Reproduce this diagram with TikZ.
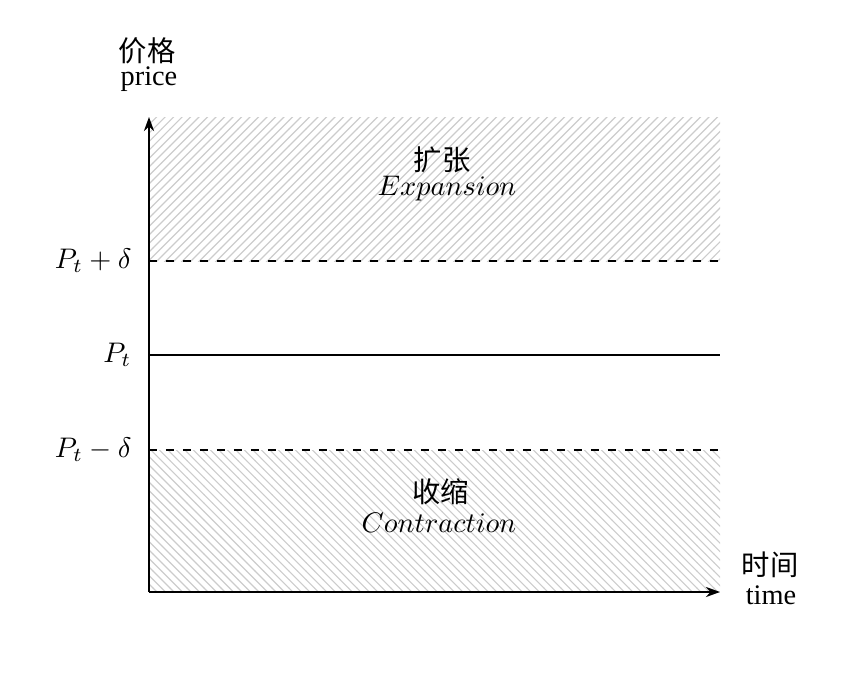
\documentclass[tikz,border=0pt]{standalone}
\usepackage{fontspec}
\setmainfont{Liberation Serif}
\newfontfamily\cjk{Noto Sans CJK SC}
\usetikzlibrary{patterns,arrows.meta}
\begin{document}
\begin{tikzpicture}[x=0.353pt,y=-0.353pt,
  axis/.style={line width=0.5pt,-{Stealth[length=5pt,width=3.6pt]}},
  hatchne/.style={pattern=north east lines,pattern color=gray!40},
  hatchnw/.style={pattern=north west lines,pattern color=gray!40},
  bound/.style={dashed,line width=0.5pt},
  mid/.style={line width=1pt},
  lbl/.style={inner sep=0pt,anchor=east},
  txt/.style={inner sep=0pt}]
\useasboundingbox (0,0) rectangle (850,673);
% hatched regions
\fill[hatchne] (149,117) rectangle (720,261);
\fill[hatchnw] (149,450) rectangle (720,592);
% coordinates
\coordinate (O) at (149,592);
\coordinate (ytop) at (149,117);
\coordinate (xend) at (720,592);
\coordinate (up0) at (149,261);
\coordinate (up1) at (720,261);
\coordinate (m0) at (149,355);
\coordinate (m1) at (720,355);
\coordinate (lo0) at (149,450);
\coordinate (lo1) at (720,450);
% lines
\draw[bound] (up0) -- (up1);
\draw[bound] (lo0) -- (lo1);
\draw[mid] (m0) -- (m1);
\draw[axis] (O) -- (ytop);
\draw[axis] (O) -- (xend);
% labels
\node[lbl] (lup) at (132,261) {$P_t+\delta$};
\node[lbl] (lmid) at (132,355) {$P_t$};
\node[lbl] (llo) at (132,450) {$P_t-\delta$};
\node[txt] (ycn) at (147,51) {\cjk 价格};
\node[txt] (yen) at (149,79) {price};
\node[txt] (xcn) at (770,565) {\cjk 时间};
\node[txt] (xen) at (771,595) {time};
\node[txt] (ecn) at (442,160) {\cjk 扩张};
\node[txt] (een) at (447,189) {$Expansion$};
\node[txt] (ccn) at (441,492) {\cjk 收缩};
\node[txt] (cen) at (439,523) {$Contraction$};
\end{tikzpicture}
\end{document}
